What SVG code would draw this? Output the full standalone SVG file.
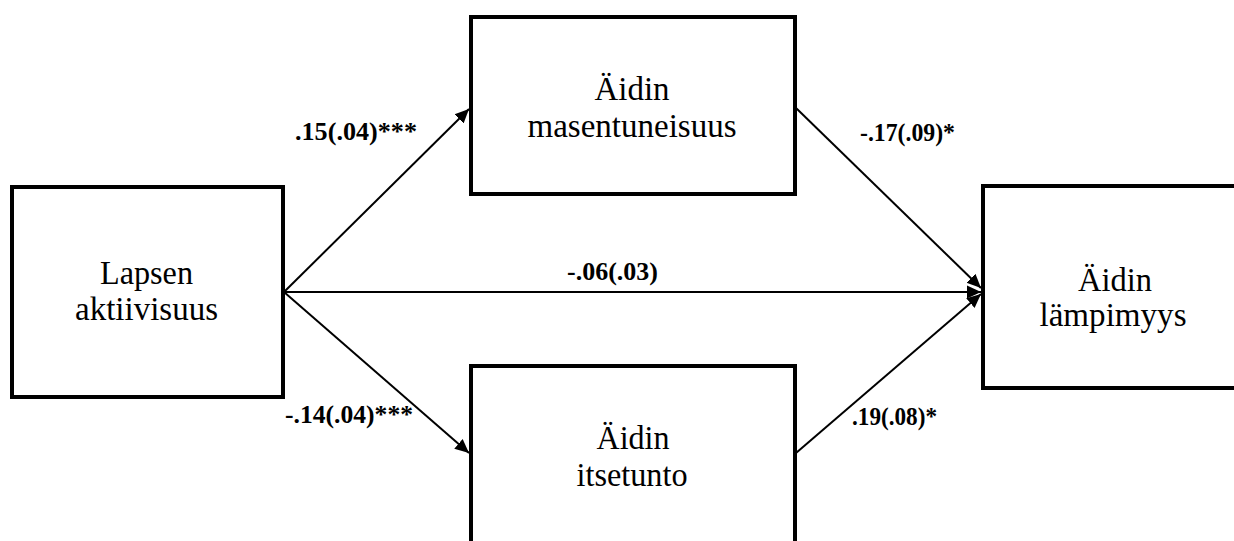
<svg xmlns="http://www.w3.org/2000/svg" width="1234" height="541" viewBox="0 0 1234 541">
<style>
.box{fill:#fff;stroke:#000;stroke-width:4}
.nt{font-family:"Liberation Serif",serif;font-size:34px;fill:#000;text-anchor:middle}
.lb{font-family:"Liberation Serif",serif;font-size:25px;font-weight:bold;fill:#000}
.cn{stroke:#000;stroke-width:2;fill:none;marker-end:url(#ah)}
</style>
<defs>
<marker id="ah" markerWidth="8" markerHeight="8" refX="7" refY="4" orient="auto" markerUnits="strokeWidth">
<path d="M0,0.8 L7,4 L0,7.2 Z" fill="#000"/>
</marker>
</defs>
<rect width="1234" height="541" fill="#fff"/>
<g id="connectors">
<line class="cn" x1="284" y1="292" x2="469" y2="109"/>
<line class="cn" x1="284" y1="292" x2="469" y2="453"/>
<line class="cn" x1="284" y1="292" x2="981" y2="292"/>
<line class="cn" x1="796" y1="108" x2="981" y2="288"/>
<line class="cn" x1="796" y1="453" x2="981" y2="294"/>
</g>
<g id="n_lapsen">
<rect class="box" x="12" y="187" width="271" height="210"/>
<text class="nt" x="146.5" y="284" textLength="93" lengthAdjust="spacingAndGlyphs">Lapsen</text>
<text class="nt" x="146.5" y="320" textLength="143" lengthAdjust="spacingAndGlyphs">aktiivisuus</text>
</g>
<g id="n_masentuneisuus">
<rect class="box" x="471" y="17" width="324" height="177"/>
<text class="nt" x="632" y="100" textLength="75" lengthAdjust="spacingAndGlyphs">Äidin</text>
<text class="nt" x="632" y="137" textLength="209" lengthAdjust="spacingAndGlyphs">masentuneisuus</text>
</g>
<g id="n_itsetunto">
<rect class="box" x="471" y="366" width="324" height="200"/>
<text class="nt" x="633" y="449" textLength="73" lengthAdjust="spacingAndGlyphs">Äidin</text>
<text class="nt" x="632" y="486" textLength="111" lengthAdjust="spacingAndGlyphs">itsetunto</text>
</g>
<g id="n_lampimyys">
<rect class="box" x="983" y="186" width="280" height="202"/>
<text class="nt" x="1115" y="291" textLength="74" lengthAdjust="spacingAndGlyphs">Äidin</text>
<text class="nt" x="1113" y="326" textLength="147" lengthAdjust="spacingAndGlyphs">lämpimyys</text>
</g>
<g id="labels">
<text class="lb" x="295" y="140" textLength="122" lengthAdjust="spacingAndGlyphs">.15(.04)***</text>
<text class="lb" x="285" y="423" textLength="128" lengthAdjust="spacingAndGlyphs">-.14(.04)***</text>
<text class="lb" x="860" y="141" textLength="95" lengthAdjust="spacingAndGlyphs">-.17(.09)*</text>
<text class="lb" x="852" y="425" textLength="85" lengthAdjust="spacingAndGlyphs">.19(.08)*</text>
<text class="lb" x="567" y="280" textLength="91" lengthAdjust="spacingAndGlyphs">-.06(.03)</text>
</g>
</svg>
